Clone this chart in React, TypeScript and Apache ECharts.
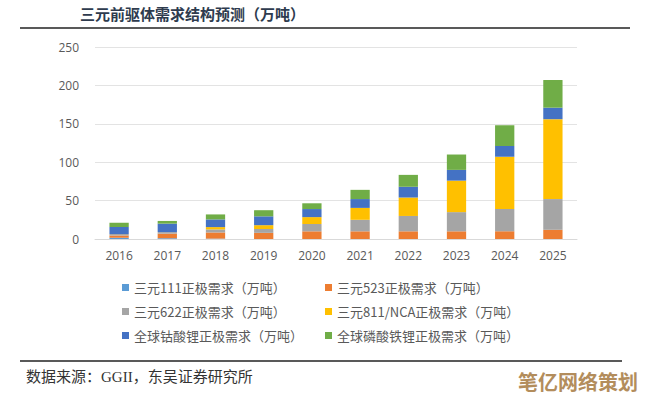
import React, { useEffect, useRef } from "react";
import * as echarts from "echarts";

const categories = ["2016", "2017", "2018", "2019", "2020", "2021", "2022", "2023", "2024", "2025"];
const seriesNames = [
  "三元111正极需求（万吨）",
  "三元523正极需求（万吨）",
  "三元622正极需求（万吨）",
  "三元811/NCA正极需求（万吨）",
  "全球钴酸锂正极需求（万吨）",
  "全球磷酸铁锂正极需求（万吨）",
];
const ncm111 = [1.5, 1, 0.5, 0, 0, 0, 0, 0, 0, 0];
const ncm523 = [3, 6, 8, 8, 10, 10, 10, 10, 10, 12];
const ncm622 = [2, 2, 4, 5, 9.5, 15, 20, 25, 29, 40];
const ncm811 = [0, 0, 3, 5, 9, 15.5, 24, 41, 68, 104];
const lco = [9, 11, 10, 11.5, 10.5, 11.5, 14, 14, 14, 15];
const lfp = [5.5, 3.5, 6.5, 8, 7.5, 12, 15.5, 20, 27, 36];
const colors = ["#5B9BD5", "#ED7D31", "#A5A5A5", "#FFC000", "#4472C4", "#70AD47"];

export default function App() {
  const ref = useRef<HTMLDivElement>(null);
  useEffect(() => {
    if (!ref.current) return;
    const chart = echarts.init(ref.current, undefined, { renderer: "svg" });
    const values = [ncm111, ncm523, ncm622, ncm811, lco, lfp];
    const legendText = {
      color: "#595959",
      fontSize: 13,
      fontFamily: "Noto Sans CJK SC",
    };
    chart.setOption({
      animation: false,
      backgroundColor: "#ffffff",
      grid: { left: 95, right: 68, top: 47, bottom: 160 },
      xAxis: {
        type: "category",
        data: categories,
        axisTick: { show: false },
        axisLine: { lineStyle: { color: "#d9d9d9" } },
        axisLabel: { color: "#595959", fontSize: 12, fontFamily: "Open Sans", margin: 10 },
      },
      yAxis: {
        type: "value",
        min: 0,
        max: 250,
        interval: 50,
        axisLine: { show: false },
        axisTick: { show: false },
        splitLine: { lineStyle: { color: "#e3e3e3" } },
        axisLabel: { color: "#595959", fontSize: 12, fontFamily: "Open Sans", margin: 16 },
      },
      legend: [
        {
          data: [seriesNames[0], seriesNames[2], seriesNames[4]],
          orient: "vertical",
          left: 117,
          top: 276,
          itemWidth: 7,
          itemHeight: 7,
          itemGap: 11,
          icon: "rect",
          textStyle: legendText,
        },
        {
          data: [seriesNames[1], seriesNames[3], seriesNames[5]],
          orient: "vertical",
          left: 320,
          top: 276,
          itemWidth: 7,
          itemHeight: 7,
          itemGap: 11,
          icon: "rect",
          textStyle: legendText,
        },
      ],
      series: seriesNames.map((name, i) => ({
        name,
        type: "bar",
        stack: "total",
        barWidth: "40%",
        data: values[i],
        itemStyle: { color: colors[i] },
      })),
      graphic: [
        {
          type: "text",
          left: 80,
          top: 6,
          style: {
            text: "三元前驱体需求结构预测（万吨）",
            fill: "#2e3b4e",
            font: "bold 15px 'Noto Sans CJK SC'",
          },
        },
        {
          type: "line",
          shape: { x1: 20, y1: 28, x2: 630, y2: 28 },
          style: { stroke: "#222", lineWidth: 1.5 },
        },
        {
          type: "line",
          shape: { x1: 20, y1: 361, x2: 622, y2: 361 },
          style: { stroke: "#222", lineWidth: 1.5 },
        },
        {
          type: "text",
          left: 26,
          top: 369,
          style: {
            text: "数据来源：GGII，东吴证券研究所",
            fill: "#333",
            font: "15px 'Liberation Serif', 'Noto Sans CJK SC'",
          },
        },
        {
          type: "text",
          left: 518,
          top: 371,
          style: {
            text: "笔亿网络策划",
            fill: "#b38d5c",
            font: "bold 20px 'Noto Sans CJK SC'",
          },
        },
      ],
    });
    return () => chart.dispose();
  }, []);
  return (
    <div
      ref={ref}
      style={{ position: "fixed", left: 0, top: 0, width: 645, height: 399 }}
    />
  );
}
